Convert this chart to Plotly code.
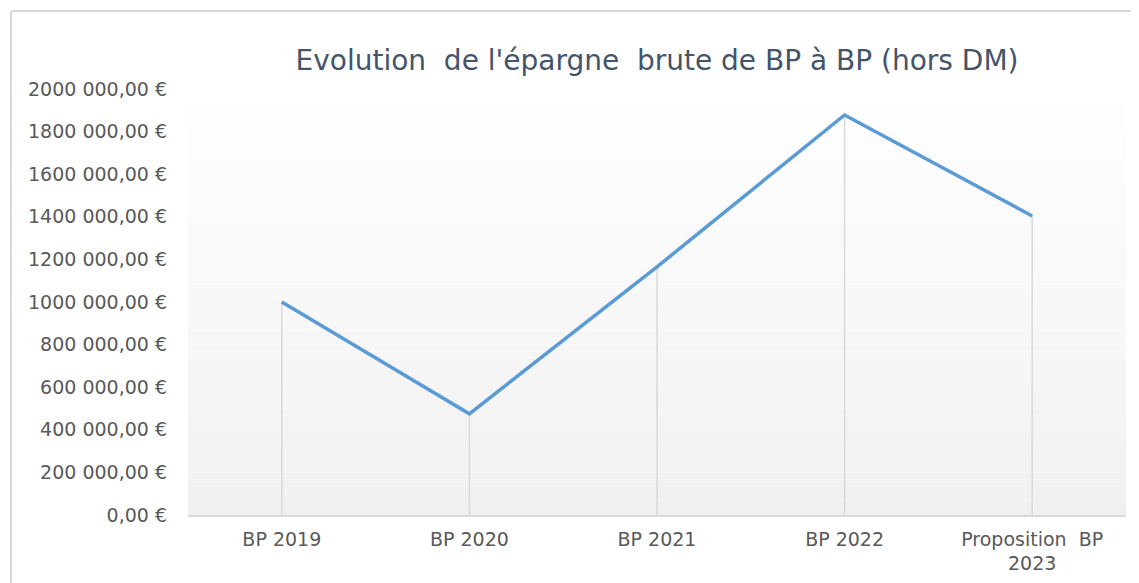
import plotly.graph_objects as go

categories = ["BP 2019", "BP 2020", "BP 2021", "BP 2022", "Proposition  BP<br>2023"]
values = [1000000, 475000, 1165000, 1878000, 1404000]
tick_vals = [0, 200000, 400000, 600000, 800000, 1000000, 1200000, 1400000, 1600000, 1800000, 2000000]
tick_text = ["0,00 €", "200 000,00 €", "400 000,00 €", "600 000,00 €", "800 000,00 €",
             "1000 000,00 €", "1200 000,00 €", "1400 000,00 €", "1600 000,00 €",
             "1800 000,00 €", "2000 000,00 €"]
title = "Evolution  de l'épargne  brute de BP à BP (hors DM)"

# page has an 8px body margin; figure sized to fill the rest of the window
OFF = 8
W, H = 1139 - OFF, 583 - OFF
L, R, T, B = 188 - OFF, 13, 89 - OFF, 68
pw, ph = W - L - R, H - T - B
FONT = "DejaVu Sans"

fig = go.Figure()

# drop lines
dx, dy = [], []
for c, v in zip(categories, values):
    dx += [c, c, None]
    dy += [0, v, None]
fig.add_trace(go.Scatter(x=dx, y=dy, mode="lines",
                         line=dict(color="#d9d9d9", width=1.5),
                         hoverinfo="skip", showlegend=False))
fig.add_trace(go.Scatter(x=categories, y=values, mode="lines",
                         line=dict(color="#5b9bd5", width=3.5),
                         showlegend=False))

shapes = []
n = 60
for i in range(n):
    t = i / (n - 1)
    g = round(255 - (255 - 240) * (1 - t))
    col = f"rgb({g},{g},{g})"
    shapes.append(dict(type="rect", xref="paper", yref="paper",
                       x0=0, x1=1, y0=i / n, y1=(i + 1) / n,
                       fillcolor=col, line=dict(width=0), layer="below"))

bx = (11 - OFF - L) / pw
by = 1 + (T - (11 - OFF)) / ph
shapes.append(dict(type="line", xref="paper", yref="paper", x0=bx, x1=1.2, y0=by, y1=by,
                   line=dict(color="#d9d9d9", width=2)))
shapes.append(dict(type="line", xref="paper", yref="paper", x0=bx, x1=bx, y0=-0.5, y1=by,
                   line=dict(color="#d9d9d9", width=2)))

fig.update_layout(
    width=W, height=H,
    margin=dict(l=L, r=R, t=T, b=B),
    paper_bgcolor="white",
    plot_bgcolor="rgba(0,0,0,0)",
    shapes=shapes,
    title=dict(text=title, x=(L + pw / 2) / W, xanchor="center", y=1 - (60 - OFF) / H, yanchor="middle",
               font=dict(family=FONT, size=28, color="#44546a")),
    xaxis=dict(type="category", range=[-0.5, 4.5], showgrid=False, showline=True,
               linecolor="#d9d9d9", linewidth=1.5, ticks="", zeroline=False,
               ticklabelstandoff=6, automargin=False,
               tickfont=dict(family=FONT, size=19, color="#595959")),
    yaxis=dict(range=[0, 2000000], tickvals=tick_vals, ticktext=tick_text, showgrid=False,
               zeroline=False, showline=False, ticks="", ticklabelstandoff=20, automargin=False,
               tickfont=dict(family=FONT, size=19, color="#595959")),
)
fig.write_html("out.html")
